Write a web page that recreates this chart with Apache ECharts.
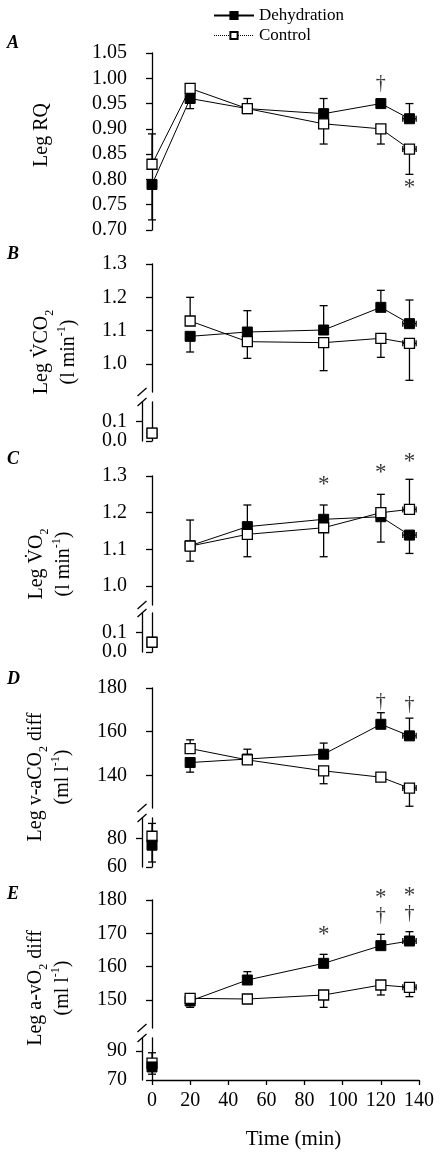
<!DOCTYPE html>
<html><head><meta charset="utf-8">
<script src="https://cdn.jsdelivr.net/npm/echarts@6/dist/echarts.min.js"></script>
<style>html,body{margin:0;padding:0;background:#fff}#c{width:440px;height:1160px}</style>
</head><body><div id="c"></div>
<script>
// ---------------- DATA ----------------
const times   = [0, 20, 50, 90, 120, 135];
const timeErr = [0, 0, 0, 0, 0, 3.5];
const xTicks  = [0, 20, 40, 60, 80, 100, 120, 140];

// A: Leg RQ
const rqDehyd    = [0.79, 0.96, 0.94, 0.93, 0.95, 0.92];
const rqDehydErr = [0.72, 0.94, null, 0.96, null, 0.95];
const rqCtrl     = [0.83, 0.98, 0.94, 0.91, 0.90, 0.86];
const rqCtrlErr  = [0.89, null, 0.96, 0.87, 0.87, 0.81];
const rqTicks    = [0.70, 0.75, 0.80, 0.85, 0.90, 0.95, 1.00, 1.05];
const rqNotes    = [[120, 0.99, '†'], [135, 0.783, '*']];

// B: Leg VCO2 (l/min)
const vco2Dehyd    = [0.04, 1.083, 1.096, 1.102, 1.170, 1.121];
const vco2DehydErr = [null, 1.036, 1.160, 1.175, 1.221, 1.192];
const vco2Ctrl     = [0.04, 1.129, 1.067, 1.064, 1.077, 1.062];
const vco2CtrlErr  = [null, 1.200, 1.017, 0.980, 1.020, 0.951];
const vco2TicksUp  = [1.0, 1.1, 1.2, 1.3];
const vco2TicksLow = [0.0, 0.1];
const vco2Notes    = [];

// C: Leg VO2 (l/min)
const vo2Dehyd    = [0.05, 1.110, 1.162, 1.182, 1.189, 1.139];
const vo2DehydErr = [null, 1.068, 1.221, 1.221, 1.120, 1.089];
const vo2Ctrl     = [0.05, 1.109, 1.141, 1.159, 1.200, 1.209];
const vo2CtrlErr  = [null, 1.180, 1.080, 1.080, 1.250, 1.291];
const vo2TicksUp  = [1.0, 1.1, 1.2, 1.3];
const vo2TicksLow = [0.0, 0.1];
const vo2Notes    = [[90, 1.275, '*'], [120, 1.308, '*'], [135, 1.338, '*']];

// D: Leg v-aCO2 diff (ml/l)
const vaDehyd    = [75.3, 145.9, 147.5, 149.7, 163.4, 158.1];
const vaDehydErr = [63.5, 141.5, null, 154.8, 168.7, 166.2];
const vaCtrl     = [81.6, 152.3, 147.1, 142.1, 139.2, 134.2];
const vaCtrlErr  = [90.6, 156.3, 152.0, 136.2, 137.8, 125.9];
const vaTicksUp  = [140, 160, 180];
const vaTicksLow = [60, 80];
const vaNotes    = [[120, 173.7, '†'], [135, 172.2, '†']];

// E: Leg a-vO2 diff (ml/l)
const avDehyd    = [79.0, 149.7, 156.0, 161.0, 166.3, 167.7];
const avDehydErr = [74.0, 147.8, 158.5, 163.7, 169.7, 170.5];
const avCtrl     = [81.7, 150.5, 150.3, 151.5, 154.5, 153.8];
const avCtrlErr  = [88.8, null, null, 147.8, 151.5, 151.0];
const avTicksUp  = [150, 160, 170, 180];
const avTicksLow = [70, 90];
const avNotes    = [[90, 169.5, '*'], [120, 180.7, '*'], [120, 175.3, '†'], [135, 181.3, '*'], [135, 175.8, '†']];

// ---------------- LAYOUT ----------------
const FONT = '"Liberation Serif", "Times New Roman", serif';
const GL = 152, GR = 21, YOFF = 10;
const panels = [
  {letter:'A', letterY:43, title:'{t|Leg RQ}', tx:42, ty:135, dec:2, dehydTopLow:false,
   dehyd:rqDehyd, dehydErr:rqDehydErr, ctrl:rqCtrl, ctrlErr:rqCtrlErr, notes:rqNotes,
   segs:[{part:'all', top:53, bottom:230, min:0.70, max:1.05, ticks:rqTicks}]},
  {letter:'B', letterY:254, title:'{t|Leg V\u0307CO}{s|2}\n{t|(l min}{p|-1}{t|)}', tx:55.5, ty:352, dec:1, dehydTopLow:false,
   dehyd:vco2Dehyd, dehydErr:vco2DehydErr, ctrl:vco2Ctrl, ctrlErr:vco2CtrlErr, notes:vco2Notes,
   segs:[{part:'upper', top:264, bottom:392, min:0.916, max:1.3, ticks:vco2TicksUp},
         {part:'lower', top:402, bottom:441, min:0, max:0.2, ticks:vco2TicksLow}]},
  {letter:'C', letterY:459, title:'{t|Leg V\u0307O}{s|2}\n{t|(l min}{p|-1}{t|)}', tx:50.5, ty:564, dec:1, dehydTopLow:false,
   dehyd:vo2Dehyd, dehydErr:vo2DehydErr, ctrl:vo2Ctrl, ctrlErr:vo2CtrlErr, notes:vo2Notes,
   segs:[{part:'upper', top:476, bottom:605, min:0.9485, max:1.3, ticks:vo2TicksUp},
         {part:'lower', top:613, bottom:652, min:0, max:0.2, ticks:vo2TicksLow}]},
  {letter:'D', letterY:679, title:'{t|Leg v-aCO}{s|2}{t| diff}\n{t|(ml l}{p|-1}{t|)}', tx:49.5, ty:777, dec:0, dehydTopLow:true,
   dehyd:vaDehyd, dehydErr:vaDehydErr, ctrl:vaCtrl, ctrlErr:vaCtrlErr, notes:vaNotes,
   segs:[{part:'upper', top:688, bottom:808, min:125.1, max:180, ticks:vaTicksUp},
         {part:'lower', top:818, bottom:867, min:60, max:94.4, ticks:vaTicksLow}]},
  {letter:'E', letterY:894, title:'{t|Leg a-vO}{s|2}{t| diff}\n{t|(ml l}{p|-1}{t|)}', tx:49.5, ty:988, dec:0, dehydTopLow:true,
   dehyd:avDehyd, dehydErr:avDehydErr, ctrl:avCtrl, ctrlErr:avCtrlErr, notes:avNotes,
   segs:[{part:'upper', top:900, bottom:1028, min:141.6, max:180, ticks:avTicksUp},
         {part:'lower', top:1038, bottom:1080, min:70, max:99, ticks:avTicksLow}]}
];

const grid = [], xAxis = [], yAxis = [], series = [], graphic = [];
let gi = 0;
const errRender = (params, api) => {
  const x = api.value(0), y = api.value(1), e = api.value(2), xe = api.value(3);
  const c = api.coord([x, y]);
  const st = {stroke:'#000', lineWidth:1.3};
  const ch = [];
  if (e !== y && !isNaN(e)) {
    const ce = api.coord([x, e]);
    ch.push({type:'line', shape:{x1:c[0], y1:c[1], x2:c[0], y2:ce[1]}, style:st});
    ch.push({type:'line', shape:{x1:c[0]-4, y1:ce[1], x2:c[0]+4, y2:ce[1]}, style:st});
  }
  if (xe > 0) {
    const a = api.coord([x - xe, y]), b = api.coord([x + xe, y]);
    ch.push({type:'line', shape:{x1:a[0], y1:c[1], x2:b[0], y2:c[1]}, style:st});
    ch.push({type:'line', shape:{x1:a[0], y1:c[1]-3, x2:a[0], y2:c[1]+3}, style:st});
    ch.push({type:'line', shape:{x1:b[0], y1:c[1]-3, x2:b[0], y2:c[1]+3}, style:st});
  }
  return {type:'group', children:ch};
};

panels.forEach((p, pi) => {
  p.segs.forEach((s, si) => {
    const isLast = pi === panels.length - 1 && si === p.segs.length - 1;
    grid.push({left:GL, right:GR, top:s.top, height:s.bottom - s.top});
    xAxis.push({
      gridIndex:gi, type:'value', min:0, max:140, interval:20, show:isLast,
      axisLine:{show:true, lineStyle:{color:'#000', width:1.3}},
      axisTick:{show:true, inside:false, length:5, lineStyle:{color:'#000', width:1.3}},
      axisLabel:{color:'#000', fontFamily:FONT, fontSize:20, margin:11},
      splitLine:{show:false},
      name: isLast ? 'Time (min)' : '', nameLocation:'middle', nameGap:49,
      nameTextStyle:{color:'#000', fontFamily:FONT, fontSize:21, padding:[0, 0, 0, 16]}
    });
    // lower segments: one axis per tick so close labels are never culled
    const tickGroups = s.part === 'lower' ? s.ticks.map(t => [t]) : [s.ticks];
    const yIndex = yAxis.length;
    tickGroups.forEach(tg => {
      yAxis.push({
        gridIndex:gi, type:'value', min:s.min, max:s.max, offset:YOFF, position:'left',
        axisLine:{show:true, lineStyle:{color:'#000', width:1.3}},
        axisTick:{show:true, inside:false, length:6, customValues:tg, lineStyle:{color:'#000', width:1.3}},
        axisLabel:{color:'#000', fontFamily:FONT, fontSize:20, margin:15, customValues:tg,
                   formatter:v => Number(v).toFixed(p.dec)},
        splitLine:{show:false}
      });
    });
    const idx = times.map((t, i) => i).filter(i =>
      s.part === 'all' ? true : (s.part === 'upper' ? times[i] > 0 : times[i] === 0));
    const dehydOnTop = s.part === 'lower' && p.dehydTopLow;
    series.push({
      type:'line', name:'Dehydration', xAxisIndex:gi, yAxisIndex:yIndex, clip:false,
      data: idx.map(i => [times[i], p.dehyd[i]]),
      symbol:'rect', symbolSize:10, z: dehydOnTop ? 5 : 3,
      itemStyle:{color:'#000', borderColor:'#000', borderWidth:1},
      lineStyle:{color:'#000', width:1}
    });
    series.push({
      type:'line', name:'Control', xAxisIndex:gi, yAxisIndex:yIndex, clip:false,
      data: idx.map(i => [times[i], p.ctrl[i]]),
      symbol:'rect', symbolSize:10, z: dehydOnTop ? 3 : 5,
      itemStyle:{color:'#fff', borderColor:'#000', borderWidth:1.3},
      lineStyle:{color:'#000', width:1}
    });
    const errData = [];
    idx.forEach(i => {
      const de = p.dehydErr[i], ce = p.ctrlErr[i];
      errData.push([times[i], p.dehyd[i], de == null ? p.dehyd[i] : de, timeErr[i]]);
      errData.push([times[i], p.ctrl[i], ce == null ? p.ctrl[i] : ce, timeErr[i]]);
    });
    series.push({
      type:'custom', xAxisIndex:gi, yAxisIndex:yIndex, z:1, silent:true,
      encode:{x:0, y:1}, data:errData, renderItem:errRender
    });
    if (s.part !== 'lower' && p.notes.length) {
      series.push({
        type:'scatter', xAxisIndex:gi, yAxisIndex:yIndex, clip:false, silent:true,
        symbolSize:0, z:6,
        data: p.notes.map(n => ({value:[n[0], n[1]],
          label:{formatter:n[2], fontSize: n[2] === '*' ? 23 : 20}})),
        label:{show:true, position:'inside', color:'#000', fontFamily:FONT, fontSize:20}
      });
    }
    gi++;
  });
  if (p.segs.length === 2) {
    const ax = GL - YOFF;
    [p.segs[0].bottom, p.segs[1].top].forEach(y => {
      graphic.push({type:'line', shape:{x1:ax - 4.5, y1:y + 4, x2:ax + 4.5, y2:y - 4},
                    style:{stroke:'#000', lineWidth:1.3}});
    });
  }
  graphic.push({type:'text', x:7, y:p.letterY,
    style:{text:p.letter, fontFamily:FONT, fontSize:18, fontWeight:'bold', fontStyle:'italic',
           fill:'#000', verticalAlign:'middle', align:'left'}});
  graphic.push({type:'text', x:p.tx, y:p.ty, rotation:Math.PI/2,
    style:{text:p.title, align:'center', verticalAlign:'middle', fill:'#000',
      rich:{
        t:{fontFamily:FONT, fontSize:20, lineHeight:27, fill:'#000'},
        s:{fontFamily:FONT, fontSize:12, verticalAlign:'bottom', fill:'#000'},
        p:{fontFamily:FONT, fontSize:12, verticalAlign:'top', fill:'#000'}
      }}});
});

const chart = echarts.init(document.getElementById('c'), null, {renderer:'canvas'});
chart.setOption({
  animation:false,
  backgroundColor:'#fff',
  legend:{
    orient:'vertical', left:208, top:2, itemWidth:40, itemHeight:9, itemGap:3,
    textStyle:{color:'#000', fontFamily:FONT, fontSize:17},
    data:[{name:'Dehydration'}, {name:'Control', lineStyle:{type:'dotted', width:1}}],
    selectedMode:false
  },
  grid, xAxis, yAxis, series, graphic
});
</script></body></html>
